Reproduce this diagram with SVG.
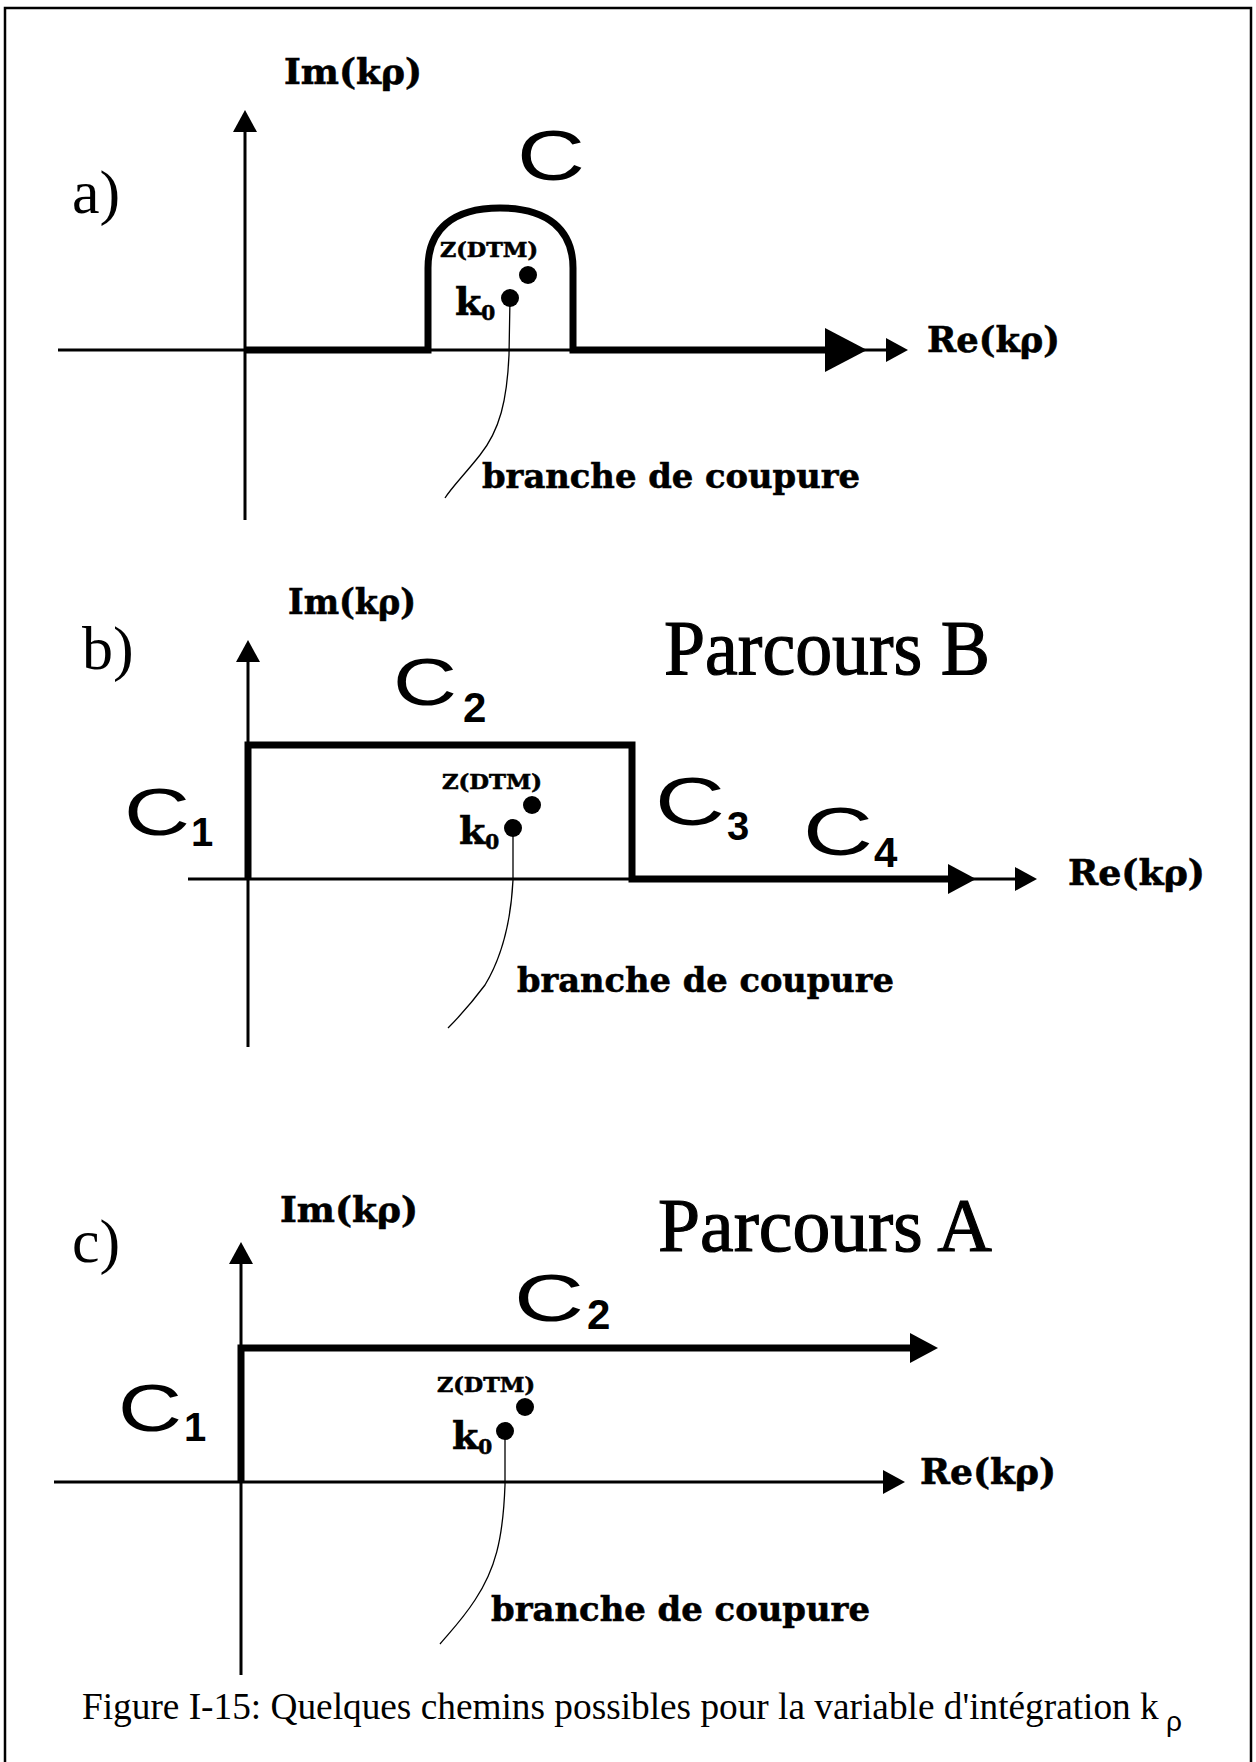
<svg xmlns="http://www.w3.org/2000/svg" width="1256" height="1762" viewBox="0 0 1256 1762">
<style>
.frame{fill:none;stroke:#000;stroke-width:2.5}
.axis{fill:none;stroke:#000;stroke-width:3}
.route{fill:none;stroke:#000;stroke-width:7;stroke-linejoin:miter}
.cut{fill:none;stroke:#000;stroke-width:1.3}
.dot{fill:#000}
.lbl{font-family:"DejaVu Serif","Liberation Serif",serif;font-weight:bold;fill:#000;stroke:#000;stroke-width:0.6}
.roman{font-family:"Liberation Serif","Times New Roman",serif;fill:#000}
.title{font-family:"Liberation Serif","Times New Roman",serif;fill:#000;stroke:#000;stroke-width:1.2}
.cc{font-family:"Liberation Sans",Arial,sans-serif;fill:#000}
.sub{font-family:"Liberation Sans",Arial,sans-serif;font-weight:bold;fill:#000}
</style>
<defs>
<marker id="axHead" viewBox="0 0 22 24" refX="1" refY="12" markerWidth="22" markerHeight="24" markerUnits="userSpaceOnUse" orient="auto"><path d="M0,0 L22,12 L0,24 Z" fill="#000"/></marker>
<marker id="bigHead" viewBox="0 0 42 44" refX="1" refY="22" markerWidth="42" markerHeight="44" markerUnits="userSpaceOnUse" orient="auto"><path d="M0,0 L42,22 L0,44 Z" fill="#000"/></marker>
<marker id="routeHead" viewBox="0 0 28 30" refX="1" refY="15" markerWidth="28" markerHeight="30" markerUnits="userSpaceOnUse" orient="auto"><path d="M0,0 L28,15 L0,30 Z" fill="#000"/></marker>
</defs>
<rect width="1256" height="1762" fill="#fff"/>
<path id="frame" class="frame" d="M5,1762 V8 H1251 V1762"/>

<!-- Panel a -->
<g id="panel-a">
  <g id="a-axes">
    <path class="axis" d="M245,520 V131" marker-end="url(#axHead)"/>
    <path class="axis" d="M58,350 H887" marker-end="url(#axHead)"/>
  </g>
  <g id="a-route">
    <path class="route" d="M245,350 H428 V268 C428,230 452,208 500,208 C548,208 573,230 573,268 V350 H826" marker-end="url(#bigHead)"/>
  </g>
  <g id="a-cut">
    <path class="cut" d="M510,298 L509,355 C507,400 500,430 480,455 C465,474 452,487 445,498"/>
  </g>
  <g id="a-points">
    <circle class="dot" cx="528" cy="275" r="9"/>
    <circle class="dot" cx="510" cy="298" r="9"/>
  </g>
  <g id="a-labels">
    <text class="roman" x="72" y="213" font-size="62">a)</text>
    <text class="lbl" x="284" y="84" font-size="36" textLength="138" lengthAdjust="spacingAndGlyphs">Im(kρ)</text>
    <text class="lbl" x="927" y="352" font-size="36" textLength="133" lengthAdjust="spacingAndGlyphs">Re(kρ)</text>
    <text class="cc" x="517" y="180" font-size="70" textLength="68" lengthAdjust="spacingAndGlyphs">C</text>
    <text class="lbl" x="440" y="257" font-size="21" textLength="98" lengthAdjust="spacingAndGlyphs">Z(DTM)</text>
    <text class="lbl" x="455" y="315" font-size="38">k<tspan font-size="20" dy="5">0</tspan></text>
    <text class="lbl" x="482" y="488" font-size="34" textLength="378" lengthAdjust="spacingAndGlyphs">branche de coupure</text>
  </g>
</g>

<!-- Panel b -->
<g id="panel-b">
  <g id="b-axes">
    <path class="axis" d="M248,1047 V661" marker-end="url(#axHead)"/>
    <path class="axis" d="M188,879 H1016" marker-end="url(#axHead)"/>
  </g>
  <g id="b-route">
    <path class="route" d="M248,879 V745 H632 V879 H949" marker-end="url(#routeHead)"/>
  </g>
  <g id="b-cut">
    <path class="cut" d="M513,828 L513,880 C511,920 503,955 485,985 C470,1005 458,1018 448,1028"/>
  </g>
  <g id="b-points">
    <circle class="dot" cx="532" cy="805" r="9"/>
    <circle class="dot" cx="513" cy="828" r="9"/>
  </g>
  <g id="b-labels">
    <text class="roman" x="82" y="669" font-size="62">b)</text>
    <text class="lbl" x="288" y="614" font-size="36" textLength="128" lengthAdjust="spacingAndGlyphs">Im(kρ)</text>
    <text class="lbl" x="1068" y="885" font-size="36" textLength="137" lengthAdjust="spacingAndGlyphs">Re(kρ)</text>
    <text class="title" x="664" y="674" font-size="78" textLength="326" lengthAdjust="spacingAndGlyphs">Parcours B</text>
    <text class="cc" x="124" y="835" font-size="66" textLength="66" lengthAdjust="spacingAndGlyphs">C</text>
    <text class="sub" x="191" y="846" font-size="40">1</text>
    <text class="cc" x="393" y="705" font-size="66" textLength="64" lengthAdjust="spacingAndGlyphs">C</text>
    <text class="sub" x="463" y="722" font-size="42">2</text>
    <text class="cc" x="655" y="825" font-size="68" textLength="70" lengthAdjust="spacingAndGlyphs">C</text>
    <text class="sub" x="727" y="840" font-size="40">3</text>
    <text class="cc" x="803" y="855" font-size="68" textLength="70" lengthAdjust="spacingAndGlyphs">C</text>
    <text class="sub" x="874" y="867" font-size="42">4</text>
    <text class="lbl" x="442" y="789" font-size="21" textLength="100" lengthAdjust="spacingAndGlyphs">Z(DTM)</text>
    <text class="lbl" x="459" y="844" font-size="38">k<tspan font-size="20" dy="5">0</tspan></text>
    <text class="lbl" x="517" y="992" font-size="34" textLength="377" lengthAdjust="spacingAndGlyphs">branche de coupure</text>
  </g>
</g>

<!-- Panel c -->
<g id="panel-c">
  <g id="c-axes">
    <path class="axis" d="M241,1675 V1263" marker-end="url(#axHead)"/>
    <path class="axis" d="M54,1482 H884" marker-end="url(#axHead)"/>
  </g>
  <g id="c-route">
    <path class="route" d="M241,1482 V1348 H911" marker-end="url(#routeHead)"/>
  </g>
  <g id="c-cut">
    <path class="cut" d="M505,1431 L505,1485 C503,1540 495,1570 475,1600 C462,1620 450,1632 440,1644"/>
  </g>
  <g id="c-points">
    <circle class="dot" cx="525" cy="1407" r="9"/>
    <circle class="dot" cx="505" cy="1431" r="9"/>
  </g>
  <g id="c-labels">
    <text class="roman" x="72" y="1262" font-size="62">c)</text>
    <text class="lbl" x="280" y="1222" font-size="36" textLength="138" lengthAdjust="spacingAndGlyphs">Im(kρ)</text>
    <text class="lbl" x="920" y="1484" font-size="36" textLength="136" lengthAdjust="spacingAndGlyphs">Re(kρ)</text>
    <text class="title" x="658" y="1251" font-size="77" textLength="334" lengthAdjust="spacingAndGlyphs">Parcours A</text>
    <text class="cc" x="514" y="1321" font-size="66" textLength="70" lengthAdjust="spacingAndGlyphs">C</text>
    <text class="sub" x="587" y="1329" font-size="42">2</text>
    <text class="cc" x="118" y="1431" font-size="66" textLength="64" lengthAdjust="spacingAndGlyphs">C</text>
    <text class="sub" x="184" y="1441" font-size="40">1</text>
    <text class="lbl" x="437" y="1392" font-size="21" textLength="98" lengthAdjust="spacingAndGlyphs">Z(DTM)</text>
    <text class="lbl" x="452" y="1449" font-size="38">k<tspan font-size="20" dy="5">0</tspan></text>
    <text class="lbl" x="491" y="1621" font-size="34" textLength="379" lengthAdjust="spacingAndGlyphs">branche de coupure</text>
  </g>
</g>

<g id="caption">
  <text class="roman" x="82" y="1719" font-size="37.3">Figure I-15: Quelques chemins possibles pour la variable d'intégration k</text>
  <text class="cc" x="1166" y="1731" font-size="28">ρ</text>
</g>
</svg>
